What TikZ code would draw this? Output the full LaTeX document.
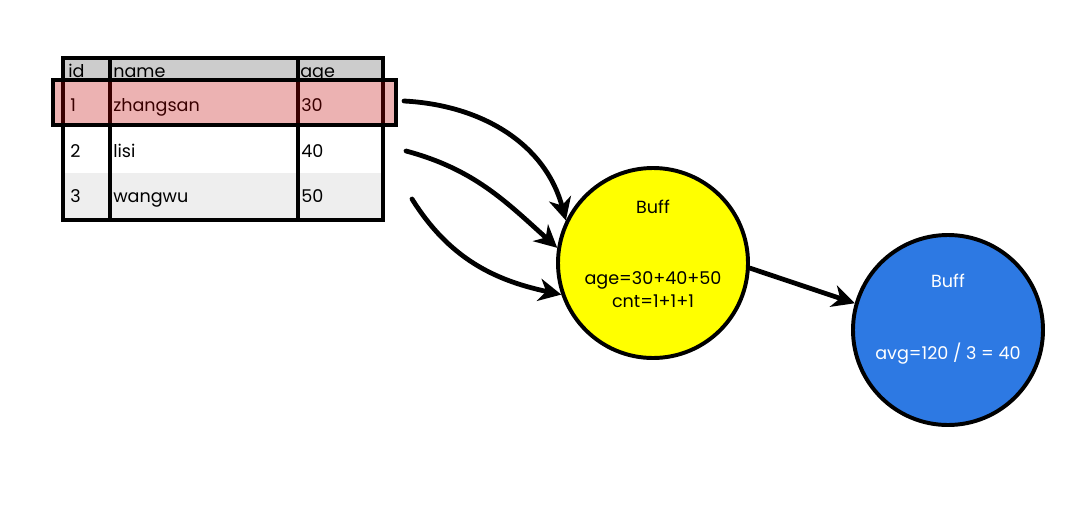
\documentclass[tikz,border=0pt]{standalone}
\usepackage{fontspec}
\setmainfont{Poppins}
\usetikzlibrary{arrows.meta}
\definecolor{hdrgray}{HTML}{CCCCCC}
\definecolor{rowgray}{HTML}{EEEEEE}
\definecolor{hlred}{HTML}{C00000}
\definecolor{buffyellow}{HTML}{FFFF00}
\definecolor{buffblue}{HTML}{2D79E3}
\begin{document}
\begin{tikzpicture}[x=0.025cm,y=-0.025cm,>={Stealth[length=16pt,width=16pt,inset=5pt]}]

    \tikzset{
      cell/.style={
        anchor=base west,
        inner sep=0pt,
        font=\fontsize{12.5}{16.3}\selectfont,
      },
      buff/.style={
        circle,
        draw,
        line width=2.8pt,
        minimum size=190*0.025cm,
        inner sep=0pt,
      },
      flow/.style={
        line width=3.4pt,
        line cap=round,
        ->,
      },
    }
    \useasboundingbox (0,0) rectangle (1072,507);

	% table
	\fill[hdrgray] (63,58) rectangle (383,82);
	\fill[rowgray] (63,173) rectangle (383,220);
	\draw[line width=2.2pt] (63,58) rectangle (383,220);
	\draw[line width=2.2pt] (110,58)--(110,220);
	\draw[line width=2.2pt] (298,58)--(298,220);

	\node[cell] (hid) at (68,77) {id};
	\node[cell] (hname) at (113,77) {name};
	\node[cell] (hage) at (300,77) {age};
	\node[cell] (id1) at (70,111) {1};
	\node[cell] (name1) at (113,111) {zhangsan};
	\node[cell] (age1) at (301,111) {30};
	\node[cell] (id2) at (70,157) {2};
	\node[cell] (name2) at (113,157) {lisi};
	\node[cell] (age2) at (301,157) {40};
	\node[cell] (id3) at (70,202) {3};
	\node[cell] (name3) at (113,202) {wangwu};
	\node[cell] (age3) at (301,202) {50};

	% highlighted row
	\draw[line width=2.4pt,fill=hlred,fill opacity=0.3] (53,80) rectangle (396,125);

	% buffers
	\node[buff,fill=buffyellow] (buffa) at (653,263) {};
	\node[cell,anchor=base] (buffatitle) at (653,213) {Buff};
	\node[cell,anchor=base] (buffasum) at (653,284) {age=30+40+50};
	\node[cell,anchor=base] (buffacnt) at (653,307) {cnt=1+1+1};

	\node[buff,fill=buffblue] (buffb) at (948,330) {};
	\node[cell,anchor=base,text=white] (buffbtitle) at (948,287) {Buff};
	\node[cell,anchor=base,text=white] (buffbavg) at (948,359) {avg=120 / 3 = 40};

	% rows into the buffer
	\coordinate (r1) at (404,101);
	\coordinate (r2) at (406,151);
	\coordinate (r3) at (412,199);
	\draw[flow] (r1) to[out=-3,in=105] (buffa.154);
	\draw[flow] (r2) to[out=-15,in=138] (buffa.171);
	\draw[flow] (r3) to[out=-58,in=168] (buffa.199);
	\draw[flow] (buffa.-3) -- (buffb.164);

\end{tikzpicture}
\end{document}
